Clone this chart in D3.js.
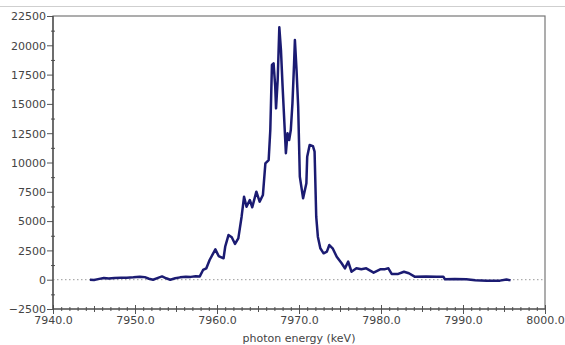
<!DOCTYPE html>
<html>
<head>
<meta charset="utf-8">
<script src="https://cdn.jsdelivr.net/npm/d3@7"></script>
<style>
  body { margin: 0; background: #fff; }
  text { font-family: "DejaVu Sans", sans-serif; }
</style>
</head>
<body>
<div id="figure-container"></div>
<script>
// photon energy (keV)
const energy = [
  7944.5, 7945.0, 7945.5, 7946.2, 7946.8, 7947.5, 7948.3, 7949.0, 7949.8, 7950.6,
  7951.2, 7951.7, 7952.2, 7952.8, 7953.3, 7953.8, 7954.3, 7954.9, 7955.5, 7956.2,
  7956.8, 7957.4, 7957.9, 7958.3, 7958.7, 7959.1, 7959.8, 7960.2, 7960.8, 7961.0,
  7961.4, 7961.8, 7962.2, 7962.6, 7963.0, 7963.3, 7963.6, 7964.0, 7964.3, 7964.8,
  7965.2, 7965.6, 7965.9, 7966.3, 7966.5, 7966.7, 7966.9, 7967.1, 7967.2, 7967.4,
  7967.6, 7967.8, 7968.0, 7968.2, 7968.4, 7968.6, 7968.8, 7969.0, 7969.2, 7969.4,
  7969.5, 7969.7, 7969.9, 7970.1, 7970.5, 7970.9, 7971.0, 7971.3, 7971.7, 7971.9,
  7972.1, 7972.3, 7972.6, 7973.0, 7973.4, 7973.7, 7974.1, 7974.6, 7975.2, 7975.6,
  7976.0, 7976.4, 7977.0, 7977.6, 7978.2, 7979.1, 7979.9, 7980.5, 7980.9, 7981.3,
  7982.1, 7982.8, 7983.4, 7984.1, 7985.5, 7986.8, 7987.6, 7987.8, 7989.0, 7990.4,
  7991.5, 7992.9, 7994.5, 7995.3, 7995.8
];
// counts
const counts = [
  0, -20, 50, 150, 100, 150, 170, 160, 200, 260,
  220, 80, 0, 150, 280, 120, 0, 120, 200, 260,
  240, 300, 280, 830, 970, 1680, 2590, 2020, 1825, 2815,
  3810, 3620, 3050, 3530, 5375, 7080, 6230, 6800, 6180, 7510,
  6660, 7230, 9930, 10210, 12770, 18320, 18460, 16470, 14620, 17040,
  21540, 19600, 16470, 13630, 10790, 12490, 11920, 12770, 15050, 18460,
  20450, 17890, 14760, 8790, 6945, 8230, 10500, 11490, 11400, 10920,
  5375, 3670, 2680, 2250, 2390, 2960, 2680, 1960, 1400, 970,
  1540, 680, 970, 900, 970, 600, 890, 900, 970, 490,
  490, 680, 550, 260, 280, 250, 260, 30, 60, 30,
  -40, -80, -80, 20, -60
];
const xTicks = [7940, 7950, 7960, 7970, 7980, 7990, 8000];
const yTicks = [-2500, 0, 2500, 5000, 7500, 10000, 12500, 15000, 17500, 20000, 22500];

const data = energy.map((e, i) => ({x: e, y: counts[i]}));

var fullWidth = 565, fullHeight = 345;
var margin = {top: 16, right: 20, bottom: 36, left: 53};
var width = 545 - margin.left;
var height = 309 - margin.top;

var svg = d3.select('#figure-container')
  .append('svg')
  .attr('width', fullWidth)
  .attr('height', fullHeight);

// thin separator line at the top of the page
svg.append('line')
  .attr('x1', 0).attr('x2', fullWidth)
  .attr('y1', 6.5).attr('y2', 6.5)
  .attr('stroke', '#cfcfcf');

var g = svg.append('g')
  .attr('transform', `translate(${margin.left},${margin.top})`);

var xScale = d3.scaleLinear().domain([7940, 8000]).range([0, width]);
var yScale = d3.scaleLinear().domain([-2500, 22500]).range([height, 0]);

// frame
g.append('rect')
  .attr('width', width).attr('height', height)
  .attr('fill', 'none')
  .attr('stroke', '#777')
  .attr('stroke-width', 1.2);

// zero line
g.append('line')
  .attr('x1', 0).attr('x2', width)
  .attr('y1', yScale(0)).attr('y2', yScale(0))
  .attr('stroke', '#999')
  .attr('stroke-dasharray', '1.5,2.5');

// minor ticks
var xMinor = d3.axisBottom(xScale).tickValues(d3.range(7941, 8000, 1)).tickSize(2).tickFormat('');
var xMid = d3.axisBottom(xScale).tickValues(d3.range(7945, 8000, 10)).tickSize(3).tickFormat('');
var yMinor = d3.axisLeft(yScale).tickValues(d3.range(-1250, 22500, 2500)).tickSize(2).tickFormat('');

var gxMinor = g.append('g').attr('transform', `translate(0,${height})`).call(xMinor);
gxMinor.selectAll('line').attr('y1', -2);
var gxMid = g.append('g').attr('transform', `translate(0,${height})`).call(xMid);
gxMid.selectAll('line').attr('y1', -3);
var gyMinor = g.append('g').call(yMinor);
gyMinor.selectAll('line').attr('x1', 2);

var xAxis = d3.axisBottom(xScale).tickValues(xTicks).tickSize(5).tickPadding(2)
  .tickFormat(d3.format('.1f'));
var yAxis = d3.axisLeft(yScale).tickValues(yTicks).tickSize(6).tickPadding(1)
  .tickFormat(d3.format('d'));

var gx = g.append('g').attr('class', 'axis x').attr('transform', `translate(0,${height})`).call(xAxis);
gx.selectAll('.tick line').attr('y1', -4);
var gy = g.append('g').attr('class', 'axis y').call(yAxis);

[gxMinor, gxMid, gyMinor, gx, gy].forEach(a => {
  a.select('.domain').remove();
  a.selectAll('line').attr('stroke', '#555');
});
g.append('line').attr('x1', 0).attr('x2', width).attr('y1', height).attr('y2', height)
  .attr('stroke', '#444').attr('stroke-width', 1.2);
g.append('line').attr('x1', 0).attr('x2', 0).attr('y1', 0).attr('y2', height)
  .attr('stroke', '#444').attr('stroke-width', 1.2);

g.selectAll('.axis text')
  .attr('fill', '#444')
  .style('font-size', '11px');
gy.selectAll('text').attr('dy', '0.35em');

// spectrum line
var line = d3.line()
  .x(d => xScale(d.x))
  .y(d => yScale(d.y));

g.append('path')
  .datum(data)
  .attr('fill', 'none')
  .attr('stroke', '#1b1b72')
  .attr('stroke-width', 2.5)
  .attr('stroke-linejoin', 'round')
  .attr('d', line);

// axis label
svg.append('text')
  .attr('x', margin.left + width / 2)
  .attr('y', 342)
  .attr('text-anchor', 'middle')
  .attr('fill', '#444')
  .style('font-size', '11px')
  .text('photon energy (keV)');
</script>
</body>
</html>
